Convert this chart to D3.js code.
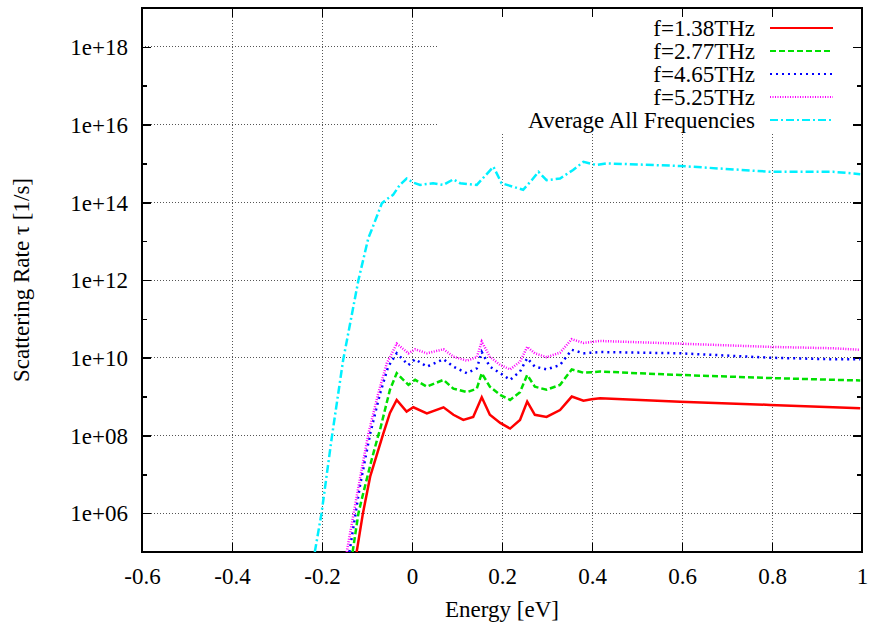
<!DOCTYPE html>
<html>
<head>
<meta charset="utf-8">
<script src="https://cdn.jsdelivr.net/npm/d3@7"></script>
<style>
  body { margin: 0; background: #fff; }
  text { font-family: "Liberation Serif", "Times New Roman", serif; fill: #000; }
</style>
</head>
<body>
<script>
// energies (eV) and scattering rates (1/s)
var energy138 = [-0.123,-0.109,-0.093,-0.064,-0.049,-0.034,-0.012,0.003,0.033,0.070,0.092,0.114,0.136,0.155,0.173,0.196,0.218,0.240,0.256,0.273,0.299,0.329,0.355,0.381,0.399,0.418,0.596,0.796,0.936,0.996]
var rate138 = [1e5,1e6,8.7e6,1.1e8,3.8e8,8.2e8,4.1e8,5.3e8,3.7e8,5.3e8,3.4e8,2.5e8,3.0e8,9.6e8,3.4e8,2.1e8,1.5e8,2.5e8,7.4e8,3.4e8,3.0e8,4.5e8,1.0e9,7.8e8,8.5e8,9.0e8,7.4e8,6.1e8,5.3e8,5.0e8]

var energy277 = [-0.132,-0.119,-0.112,-0.090,-0.075,-0.071,-0.049,-0.034,-0.008,0.007,0.033,0.070,0.092,0.122,0.144,0.155,0.173,0.196,0.218,0.240,0.256,0.273,0.299,0.329,0.355,0.381,0.418,0.596,0.796,0.936,0.996]
var rate277 = [1e5,1e6,2.2e6,2.3e7,1.0e8,1.4e8,1.5e9,4.0e9,2.0e9,2.7e9,1.8e9,2.7e9,1.6e9,1.3e9,1.6e9,4.0e9,1.8e9,1.1e9,8.2e8,1.3e9,3.6e9,1.8e9,1.5e9,2.0e9,5.0e9,4.1e9,4.4e9,3.6e9,3.0e9,2.7e9,2.6e9]

var energy465 = [-0.139,-0.116,-0.093,-0.071,-0.053,-0.034,-0.008,0.007,0.033,0.070,0.092,0.122,0.144,0.155,0.173,0.196,0.218,0.240,0.256,0.273,0.299,0.329,0.355,0.381,0.418,0.596,0.796,0.936,0.996]
var rate465 = [1e5,4.8e6,1.1e8,1.2e9,5.9e9,1.3e10,6.5e9,9.1e9,5.9e9,9.1e9,5.9e9,4.0e9,5.3e9,1.4e10,5.9e9,4.0e9,2.7e9,4.4e9,9.7e9,5.9e9,5.0e9,6.5e9,1.6e10,1.3e10,1.4e10,1.3e10,1.0e10,9.1e9,9.1e9]

var energy525 = [-0.145,-0.119,-0.097,-0.075,-0.056,-0.034,-0.008,0.007,0.033,0.070,0.092,0.122,0.144,0.155,0.173,0.196,0.218,0.240,0.256,0.273,0.299,0.329,0.355,0.381,0.418,0.596,0.796,0.936,0.996]
var rate525 = [1e5,4.8e6,1.1e8,1.2e9,7.2e9,2.3e10,1.3e10,1.65e10,1.3e10,1.65e10,1.06e10,8.4e9,1.03e10,2.6e10,1.06e10,6.5e9,5.0e9,7.9e9,1.9e10,1.3e10,1.03e10,1.35e10,3.0e10,2.4e10,2.7e10,2.3e10,1.9e10,1.75e10,1.6e10]

var energyAvg = [-0.216,-0.201,-0.178,-0.153,-0.119,-0.097,-0.090,-0.067,-0.056,-0.042,-0.027,-0.012,0.003,0.018,0.047,0.070,0.092,0.107,0.144,0.181,0.199,0.225,0.247,0.266,0.281,0.299,0.329,0.358,0.381,0.410,0.433,0.596,0.796,0.936,0.996]
var rateAvg = [1e5,1e6,9.3e7,8.7e9,1e12,1.2e13,1.9e13,9.4e13,1.2e14,1.55e14,2.8e14,4.1e14,3.2e14,2.8e14,3.1e14,2.8e14,3.9e14,3.1e14,2.8e14,8.2e14,3.1e14,2.5e14,2.1e14,3.7e14,6.1e14,3.7e14,4.1e14,6.8e14,1.1e15,9.1e14,1.0e15,8.6e14,6.1e14,6.1e14,5.3e14]

var seriesNames = ["f=1.38THz", "f=2.77THz", "f=4.65THz", "f=5.25THz", "Average All Frequencies"]
var xTicks = [-0.6, -0.4, -0.2, 0, 0.2, 0.4, 0.6, 0.8, 1]
var yTicks = [1e6, 1e8, 1e10, 1e12, 1e14, 1e16, 1e18]
var yMinorTicks = [1e5, 1e7, 1e9, 1e11, 1e13, 1e15, 1e17]

var series = [
  {name: seriesNames[0], e: energy138, r: rate138, color: "#ff0000", dash: null},
  {name: seriesNames[1], e: energy277, r: rate277, color: "#00e000", dash: "6,3"},
  {name: seriesNames[2], e: energy465, r: rate465, color: "#0000ff", dash: "2,4"},
  {name: seriesNames[3], e: energy525, r: rate525, color: "#ff00ff", dash: "1,1.5"},
  {name: seriesNames[4], e: energyAvg, r: rateAvg, color: "#00f0ff", dash: "8,3,2,3"}
]

var W = 872, H = 627
var pLeft = 142, pRight = 862, pTop = 8, pBottom = 552
var fs = 23

var svg = d3.select("body")
            .append("svg")
            .attr("width", W)
            .attr("height", H)

var x = d3.scaleLinear().domain([-0.6, 1]).range([pLeft, pRight])
var y = d3.scaleLog().domain([1e5, 1e19]).range([pBottom, pTop])

// grid
var grid = svg.append("g")
grid.selectAll(".gx")
    .data(xTicks.slice(1, -1))
    .enter()
    .append("line")
    .attr("x1", d => x(d)).attr("x2", d => x(d))
    .attr("y1", pTop).attr("y2", pBottom)
grid.selectAll(".gy")
    .data(yTicks)
    .enter()
    .append("line")
    .attr("x1", pLeft).attr("x2", pRight)
    .attr("y1", d => y(d)).attr("y2", d => y(d))
grid.selectAll("line")
    .attr("stroke", "#555")
    .attr("stroke-width", 1)
    .attr("stroke-dasharray", "1,2")
    .attr("shape-rendering", "crispEdges")

// key area hides the grid behind it
svg.append("rect")
   .attr("x", 437).attr("y", pTop)
   .attr("width", pRight - 437).attr("height", 124)
   .attr("fill", "#fff")

// axes, ticks mirrored on all four sides
var axes = svg.append("g").attr("shape-rendering", "crispEdges")
var xAxisB = axes.append("g").attr("transform", `translate(0,${pBottom})`)
    .call(d3.axisBottom(x).tickValues(xTicks).tickSize(-9).tickPadding(16).tickFormat(d => String(d)))
axes.append("g").attr("transform", `translate(0,${pTop})`)
    .call(d3.axisTop(x).tickValues(xTicks).tickSize(-9).tickFormat(""))
var yAxisL = axes.append("g").attr("transform", `translate(${pLeft},0)`)
    .call(d3.axisLeft(y).tickValues(yTicks).tickSize(-9).tickPadding(14).tickFormat(d => "1e+" + String(Math.round(Math.log10(d))).padStart(2, "0")))
axes.append("g").attr("transform", `translate(${pRight},0)`)
    .call(d3.axisRight(y).tickValues(yTicks).tickSize(-9).tickFormat(""))
axes.append("g").attr("transform", `translate(${pLeft},0)`)
    .call(d3.axisLeft(y).tickValues(yMinorTicks).tickSize(-5).tickFormat(""))
axes.append("g").attr("transform", `translate(${pRight},0)`)
    .call(d3.axisRight(y).tickValues(yMinorTicks).tickSize(-5).tickFormat(""))
axes.selectAll(".domain").remove()
axes.selectAll(".tick line").attr("stroke", "#000").attr("stroke-width", 1.5)
axes.selectAll(".tick text")
    .style("font-size", fs + "px")
    .style("font-family", "Liberation Serif, serif")
    .attr("fill", "#000")
yAxisL.selectAll(".tick text").attr("dy", "0.34em")

svg.append("rect")
   .attr("x", pLeft).attr("y", pTop)
   .attr("width", pRight - pLeft).attr("height", pBottom - pTop)
   .attr("fill", "none")
   .attr("stroke", "#000")
   .attr("stroke-width", 2)

// data lines
var clip = svg.append("clipPath").attr("id", "clip")
clip.append("rect").attr("x", pLeft).attr("y", pTop).attr("width", pRight - pLeft).attr("height", pBottom - pTop)

var line = d3.line()
             .x(d => x(d[0]))
             .y(d => y(d[1]))

var lines = svg.append("g").attr("clip-path", "url(#clip)")
series.forEach(s => {
  lines.append("path")
       .datum(d3.zip(s.e, s.r))
       .attr("d", line)
       .attr("fill", "none")
       .attr("stroke", s.color)
       .attr("stroke-width", 2.5)
       .attr("stroke-dasharray", s.dash)
})

// key
var key = svg.append("g")
series.forEach((s, i) => {
  var ky = 28 + i * 23
  key.append("text")
     .attr("x", 755)
     .attr("y", ky)
     .attr("dy", "0.35em")
     .attr("text-anchor", "end")
     .style("font-size", fs + "px")
     .text(s.name)
  key.append("line")
     .attr("x1", 770).attr("x2", 833)
     .attr("y1", ky).attr("y2", ky)
     .attr("stroke", s.color)
     .attr("stroke-width", 2)
     .attr("stroke-dasharray", s.dash)
})

// axis titles
svg.append("text")
   .attr("x", (pLeft + pRight) / 2)
   .attr("y", 617)
   .attr("text-anchor", "middle")
   .style("font-size", fs + "px")
   .text("Energy [eV]")

svg.append("text")
   .attr("transform", `translate(29,${(pTop + pBottom) / 2}) rotate(-90)`)
   .attr("text-anchor", "middle")
   .style("font-size", fs + "px")
   .text("Scattering Rate τ [1/s]")
</script>
</body>
</html>
